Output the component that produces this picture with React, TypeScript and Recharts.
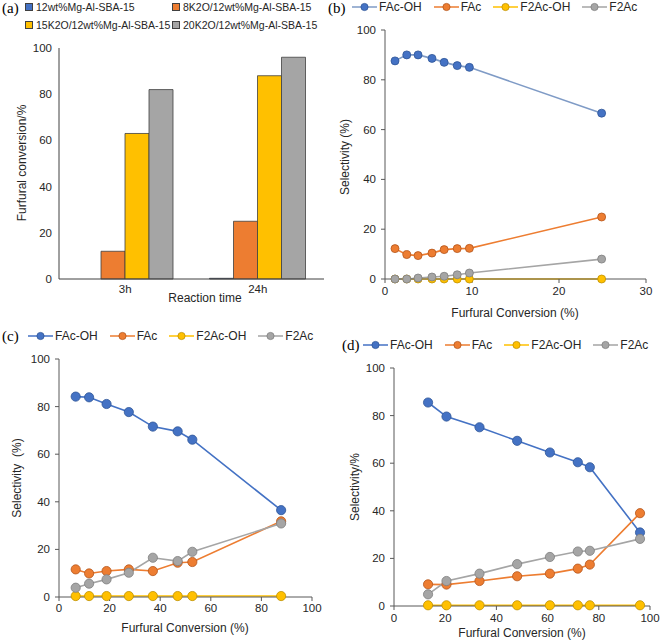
import React from 'react';
import { BarChart, Bar, LineChart, Line, XAxis, YAxis } from 'recharts';

const FONT = '"Liberation Sans", Arial, sans-serif';
const SERIF = '"Liberation Serif", "Times New Roman", serif';
const TXT = '#262626';

// ---------- Panel (a) ----------
const aCategories = ['3h', '24h'];
const aSeriesNames = ['12wt%Mg-Al-SBA-15', '8K2O/12wt%Mg-Al-SBA-15', '15K2O/12wt%Mg-Al-SBA-15', '20K2O/12wt%Mg-Al-SBA-15'];
const aMg = [0, 0.3];
const aK8 = [12, 25];
const aK15 = [63, 88];
const aK20 = [82, 96];
const yTicks = [0, 20, 40, 60, 80, 100];

// ---------- Line panels ----------
const lineNames = ['FAc-OH', 'FAc', 'F2Ac-OH', 'F2Ac'];

const bX = [1.15, 2.5, 3.8, 5.4, 6.8, 8.3, 9.7, 24.9];
const bFAcOH = [87.6, 90, 90, 88.6, 87, 85.7, 85, 66.6];
const bFAc = [12.2, 9.8, 9.4, 10.4, 11.8, 12.2, 12.3, 24.9];
const bF2AcOH = [0, 0, 0, 0, 0, 0, 0, 0];
const bF2Ac = [0, 0, 0.4, 0.8, 1.1, 1.7, 2.4, 8];
const bXTicks = [0, 10, 20, 30];

const cX = [6.6, 11.9, 18.8, 27.6, 37.1, 46.9, 52.7, 87.8];
const cFAcOH = [84.2, 83.9, 81.1, 77.7, 71.6, 69.6, 66.1, 36.5];
const cFAc = [11.6, 9.9, 10.9, 11.6, 10.9, 14.4, 14.7, 31.8];
const cF2AcOH = [0.4, 0.4, 0.4, 0.4, 0.4, 0.4, 0.4, 0.4];
const cF2Ac = [3.9, 5.6, 7.4, 10.2, 16.5, 15.1, 19, 30.9];

const dX = [13.3, 20.5, 33.4, 48.1, 60.9, 71.8, 76.5, 96.1];
const dFAcOH = [85.5, 79.6, 75.1, 69.4, 64.5, 60.4, 58.3, 30.9];
const dFAc = [9.1, 9, 10.5, 12.5, 13.6, 15.7, 17.4, 39];
const dF2AcOH = [0.3, 0.3, 0.3, 0.3, 0.3, 0.3, 0.3, 0.3];
const dF2Ac = [4.9, 10.5, 13.6, 17.6, 20.6, 22.9, 23.2, 28.2];
const cdXTicks = [0, 20, 40, 60, 80, 100];

const FILLS = ['#4472C4', '#ED7D31', '#FFC000', '#A5A5A5'];
const DARKS = ['#2F5597', '#B4561C', '#BF9000', '#7F7F7F'];
const B_LINES = ['#7F9BC6', '#ED7D31', '#FFC000', '#A5A5A5'];

const AXIS = '#595959';
const FRAME = '#8C8C8C';

function abs(left: number, top: number, extra: any = {}) {
  return { position: 'absolute' as const, left, top, ...extra };
}

function AxisTitle({ x, y, text, rotate }: { x: number; y: number; text: string; rotate?: boolean }) {
  return (
    <div
      style={abs(x, y, {
        transform: `translate(-50%, -50%)${rotate ? ' rotate(-90deg)' : ''}`,
        fontFamily: FONT,
        fontSize: 12,
        color: TXT,
        whiteSpace: 'pre',
        lineHeight: '14px',
      })}
    >
      {text}
    </div>
  );
}

function PanelTag({ x, y, text }: { x: number; y: number; text: string }) {
  return (
    <div style={abs(x, y - 9, { fontFamily: SERIF, fontSize: 15, color: '#000', lineHeight: '18px' })}>{text}</div>
  );
}

function LineLegend({ x, y, lineColors }: { x: number; y: number; lineColors: string[] }) {
  return (
    <div
      style={abs(x, y - 7, {
        display: 'flex',
        gap: 12,
        alignItems: 'center',
        height: 14,
        fontFamily: FONT,
        fontSize: 12,
        color: TXT,
        whiteSpace: 'nowrap',
        lineHeight: '14px',
      })}
    >
      {lineNames.map((n, i) => (
        <div key={n} style={{ display: 'flex', alignItems: 'center' }}>
          <svg width={25} height={12} style={{ display: 'block' }}>
            <line x1={0} y1={6} x2={25} y2={6} stroke={lineColors[i]} strokeWidth={1.5} />
            <circle cx={12.5} cy={6} r={3.6} fill={FILLS[i]} stroke={DARKS[i]} strokeWidth={0.8} />
          </svg>
          <span style={{ marginLeft: 2 }}>{n}</span>
        </div>
      ))}
    </div>
  );
}

function BarLegend() {
  const pos = [
    [25, 7],
    [172, 7],
    [25, 25],
    [172, 25],
  ];
  return (
    <>
      {aSeriesNames.map((n, i) => (
        <div
          key={n}
          style={abs(pos[i][0], pos[i][1] - 7, {
            display: 'flex',
            alignItems: 'center',
            height: 14,
            fontFamily: FONT,
            fontSize: 10.5,
            color: TXT,
            whiteSpace: 'nowrap',
          })}
        >
          <div style={{ width: 6, height: 6, background: FILLS[i], border: '0.5px solid #404040' }} />
          <span style={{ marginLeft: 3 }}>{n}</span>
        </div>
      ))}
    </>
  );
}

function PanelA() {
  const data = aCategories.map((c, i) => ({ cat: c, mg: aMg[i], k8: aK8[i], k15: aK15[i], k20: aK20[i] }));
  const keys = ['mg', 'k8', 'k15', 'k20'];
  return (
    <div style={abs(0, 0, { width: 330, height: 320 })}>
      <BarChart width={330} height={320} data={data} margin={{ top: 48, right: 6, left: 0, bottom: 11 }} barGap={0} barSize={24}>
        <XAxis
          dataKey="cat"
          height={30}
          tickLine={false}
          tickSize={0}
          tickMargin={6}
          axisLine={{ stroke: '#404040' }}
          tick={{ fontSize: 11.5, fill: TXT, fontFamily: FONT }}
        />
        <XAxis xAxisId="top" orientation="top" dataKey="cat" height={0} tick={false} tickLine={false} axisLine={{ stroke: '#404040' }} />
        <YAxis
          domain={[0, 100]}
          ticks={yTicks}
          width={59}
          tickSize={4}
          tickMargin={3}
          tickLine={false}
          axisLine={{ stroke: '#404040' }}
          tick={{ fontSize: 11.5, fill: TXT, fontFamily: FONT }}
        />
        <YAxis yAxisId="right" orientation="right" domain={[0, 100]} width={0} tick={false} tickLine={false} axisLine={{ stroke: '#404040' }} />
        {keys.map((k, i) => (
          <Bar key={k} dataKey={k} fill={FILLS[i]} stroke="#404040" strokeWidth={0.8} isAnimationActive={false} />
        ))}
      </BarChart>
      <BarLegend />
      <PanelTag x={2} y={8} text="(a)" />
      <AxisTitle x={22} y={163} text="Furfural conversion/%" rotate />
      <AxisTitle x={205} y={298} text="Reaction time" />
    </div>
  );
}

type LPProps = {
  left: number;
  top: number;
  width: number;
  height: number;
  margin: { top: number; right: number; left: number; bottom: number };
  yWidth: number;
  xs: number[];
  series: number[][];
  xDomain: [number, number];
  xTicks: number[];
  lineColors: string[];
  r: number;
  xTickGap: number;
  children?: React.ReactNode;
};

function LinePanel(p: LPProps) {
  const data = p.xs.map((x, i) => ({ x, s0: p.series[0][i], s1: p.series[1][i], s2: p.series[2][i], s3: p.series[3][i] }));
  const tick = { fontSize: 11.5, fill: TXT, fontFamily: FONT };
  return (
    <div style={abs(p.left, p.top, { width: p.width, height: p.height })}>
      <LineChart width={p.width} height={p.height} data={data} margin={p.margin}>
        <XAxis
          dataKey="x"
          type="number"
          domain={p.xDomain}
          ticks={p.xTicks}
          height={30}
          tickSize={4}
          tickMargin={p.xTickGap - 4}
          axisLine={{ stroke: AXIS }}
          tickLine={{ stroke: AXIS }}
          tick={tick}
          allowDataOverflow
        />
        <XAxis xAxisId="top" orientation="top" dataKey="x" type="number" domain={p.xDomain} height={0} tick={false} tickLine={false} axisLine={{ stroke: FRAME }} />
        <YAxis
          domain={[0, 100]}
          ticks={yTicks}
          width={p.yWidth}
          tickSize={4}
          tickMargin={5}
          axisLine={{ stroke: AXIS }}
          tickLine={{ stroke: AXIS }}
          tick={tick}
        />
        <YAxis yAxisId="right" orientation="right" domain={[0, 100]} width={0} tick={false} tickLine={false} axisLine={{ stroke: FRAME }} />
        {[0, 1, 2, 3].map((i) => (
          <Line
            key={i}
            dataKey={'s' + i}
            stroke={p.lineColors[i]}
            strokeWidth={1.6}
            dot={{ r: p.r, fill: FILLS[i], stroke: DARKS[i], strokeWidth: 0.8 }}
            isAnimationActive={false}
          />
        ))}
      </LineChart>
      {p.children}
    </div>
  );
}

export default function App() {
  return (
    <div style={abs(0, 0, { width: 661, height: 644, background: '#fff', overflow: 'hidden' })}>
      <PanelA />
      <LinePanel
        left={330}
        top={0}
        width={331}
        height={320}
        margin={{ top: 30, right: 15, left: 0, bottom: 11 }}
        yWidth={55}
        xs={bX}
        series={[bFAcOH, bFAc, bF2AcOH, bF2Ac]}
        xDomain={[0, 30]}
        xTicks={bXTicks}
        lineColors={B_LINES}
        r={4}
        xTickGap={8}
      >
        <PanelTag x={-2} y={8} text="(b)" />
        <LineLegend x={22} y={7} lineColors={B_LINES} />
        <AxisTitle x={15} y={157} text="Selectivity (%)" rotate />
        <AxisTitle x={185} y={313} text="Furfural Conversion (%)" />
      </LinePanel>
      <LinePanel
        left={0}
        top={320}
        width={330}
        height={324}
        margin={{ top: 39, right: 18, left: 0, bottom: 17 }}
        yWidth={59}
        xs={cX}
        series={[cFAcOH, cFAc, cF2AcOH, cF2Ac]}
        xDomain={[0, 100]}
        xTicks={cdXTicks}
        lineColors={FILLS}
        r={4.6}
        xTickGap={7}
      >
        <PanelTag x={2} y={16} text="(c)" />
        <LineLegend x={28} y={16} lineColors={FILLS} />
        <AxisTitle x={17} y={158} text="Selectivity  (%)" rotate />
        <AxisTitle x={185} y={308} text="Furfural Conversion (%)" />
      </LinePanel>
      <LinePanel
        left={330}
        top={320}
        width={331}
        height={324}
        margin={{ top: 48, right: 11, left: 0, bottom: 8 }}
        yWidth={64}
        xs={dX}
        series={[dFAcOH, dFAc, dF2AcOH, dF2Ac]}
        xDomain={[0, 100]}
        xTicks={cdXTicks}
        lineColors={FILLS}
        r={4.6}
        xTickGap={8}
      >
        <PanelTag x={12} y={25} text="(d)" />
        <LineLegend x={33} y={25} lineColors={FILLS} />
        <AxisTitle x={25} y={167} text="Selectivity/%" rotate />
        <AxisTitle x={192} y={313} text="Furfural Conversion (%)" />
      </LinePanel>
    </div>
  );
}
